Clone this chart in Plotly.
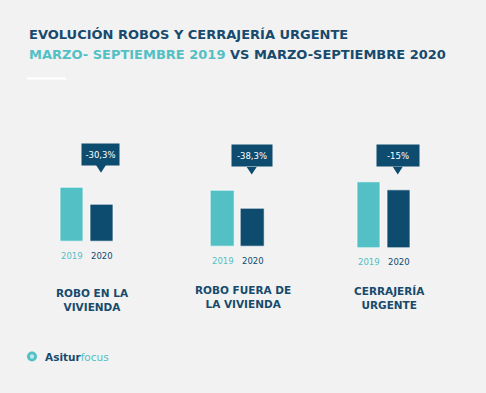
import plotly.graph_objects as go

# ---- data ----
categories = ["ROBO EN LA<br>VIVIENDA", "ROBO FUERA DE<br>LA VIVIENDA", "CERRAJERÍA<br>URGENTE"]
years = ["2019", "2020"]
values_2019 = [54.0, 55.7, 65.6]
values_2020 = [37.4, 38.4, 57.6]
changes = ["-30,3%", "-38,3%", "-15%"]

# ---- style / layout ----
W, H = 486, 393
BG = "#f2f2f2"
TEAL = "#52c0c4"
DARK = "#0d4b6f"
TITLE_DARK = "#174a6c"
FONT = "DejaVu Sans"

def px(x):
    return x / W

def py(y):
    return 1 - y / H

# per-group geometry (pixels)
x_domains = [(57.5, 116.8), (207.7, 267.7), (354.5, 413.5)]
baselines = [241.7, 246.7, 248.3]
label_y = [299.5, 296.5, 297.5]
box_y = [154.5, 155.5, 155.3]
box_w = [31, 34, 36]
tri_base = [165.0, 167.0, 166.7]
tri_tip = [172.8, 174.5, 174.5]
Y_SPAN = 70.0

fig = go.Figure()
annotations = []
shapes = []

for i in range(3):
    xa = "x" if i == 0 else f"x{i+1}"
    ya = "y" if i == 0 else f"y{i+1}"
    fig.add_trace(go.Bar(
        x=years, y=[values_2019[i], values_2020[i]],
        xaxis=xa, yaxis=ya, width=0.776,
        marker=dict(color=[TEAL, DARK], line=dict(color="rgba(255,255,255,0.7)", width=1)),
        showlegend=False, hoverinfo="skip",
    ))
    d0, d1 = x_domains[i]
    b = baselines[i]
    axkey = "xaxis" if i == 0 else f"xaxis{i+1}"
    aykey = "yaxis" if i == 0 else f"yaxis{i+1}"
    fig.update_layout(**{
        axkey: dict(domain=[px(d0), px(d1)], range=[-0.5, 1.5], anchor=ya,
                    showticklabels=False, showgrid=False, zeroline=False, showline=False,
                    type="category", fixedrange=True),
        aykey: dict(domain=[py(b), py(b - Y_SPAN)], range=[0, Y_SPAN], anchor=xa,
                    showticklabels=False, showgrid=False, zeroline=False, showline=False,
                    fixedrange=True),
    })
    # year labels (category index positions)
    for k, (yr, col) in enumerate(zip(years, [TEAL, DARK])):
        annotations.append(dict(
            x=k, y=0, xref=xa, yref=ya, text=yr, showarrow=False,
            yanchor="middle", yshift=-14,
            font=dict(family=FONT, size=8.5, color=col),
        ))
    # category labels
    annotations.append(dict(
        x=0.5, y=py(label_y[i]), xref=xa, yref="paper", text=categories[i],
        showarrow=False, xshift=5, yanchor="middle", align="center",
        font=dict(family=FONT, size=10.5, color=TITLE_DARK, weight="bold"),
    ))
    # change callout above the 2020 bar
    annotations.append(dict(
        x=1, y=py(box_y[i]), xref=xa, yref="paper", text=changes[i],
        showarrow=False, xshift=-1, yanchor="middle",
        bgcolor=DARK, borderpad=3, width=box_w[i], height=15,
        font=dict(family=FONT, size=8.5, color="white"),
    ))
    cx = (d0 + d1) / 2 + (d1 - d0) / 4 - 1
    shapes.append(dict(
        type="path", xref="paper", yref="paper",
        path=f"M {px(cx-5)} {py(tri_base[i])} L {px(cx+5)} {py(tri_base[i])} L {px(cx)} {py(tri_tip[i])} Z",
        fillcolor=DARK, line=dict(width=0),
    ))

# title
annotations.append(dict(
    x=px(27), y=py(34.5), xref="paper", yref="paper", xanchor="left", yanchor="middle",
    text="EVOLUCIÓN ROBOS Y CERRAJERÍA URGENTE", showarrow=False,
    font=dict(family=FONT, size=13, color=TITLE_DARK, weight="bold"),
))
annotations.append(dict(
    x=px(27), y=py(54), xref="paper", yref="paper", xanchor="left", yanchor="middle",
    text=f"<span style='color:{TEAL}'>MARZO- SEPTIEMBRE 2019</span> VS MARZO-SEPTIEMBRE 2020",
    showarrow=False,
    font=dict(family=FONT, size=13, color=TITLE_DARK, weight="bold"),
))
# short rule under title
shapes.append(dict(type="line", xref="paper", yref="paper",
                   x0=px(27), x1=px(66), y0=py(78.5), y1=py(78.5),
                   line=dict(color="white", width=2)))

# logo
shapes.append(dict(type="circle", xref="paper", yref="paper",
                   x0=px(27), x1=px(37), y0=py(361.5), y1=py(351.5),
                   fillcolor=TEAL, line=dict(width=0)))
shapes.append(dict(type="circle", xref="paper", yref="paper",
                   x0=px(29.8), x1=px(34.2), y0=py(358.7), y1=py(354.3),
                   fillcolor="#bfe8ea", line=dict(width=0)))
annotations.append(dict(
    x=px(43), y=py(356.7), xref="paper", yref="paper", xanchor="left", yanchor="middle",
    text=f"<b>Asitur</b><span style='color:{TEAL}'>focus</span>", showarrow=False,
    font=dict(family=FONT, size=10.5, color=TITLE_DARK),
))

fig.update_layout(
    width=W, height=H, margin=dict(l=0, r=0, t=0, b=0),
    paper_bgcolor=BG, plot_bgcolor=BG,
    annotations=annotations, shapes=shapes,
    bargap=0,
)

fig.write_html("out.html", config={"displayModeBar": False},
               post_script="document.body.style.margin='0';document.body.style.overflow='hidden';")
